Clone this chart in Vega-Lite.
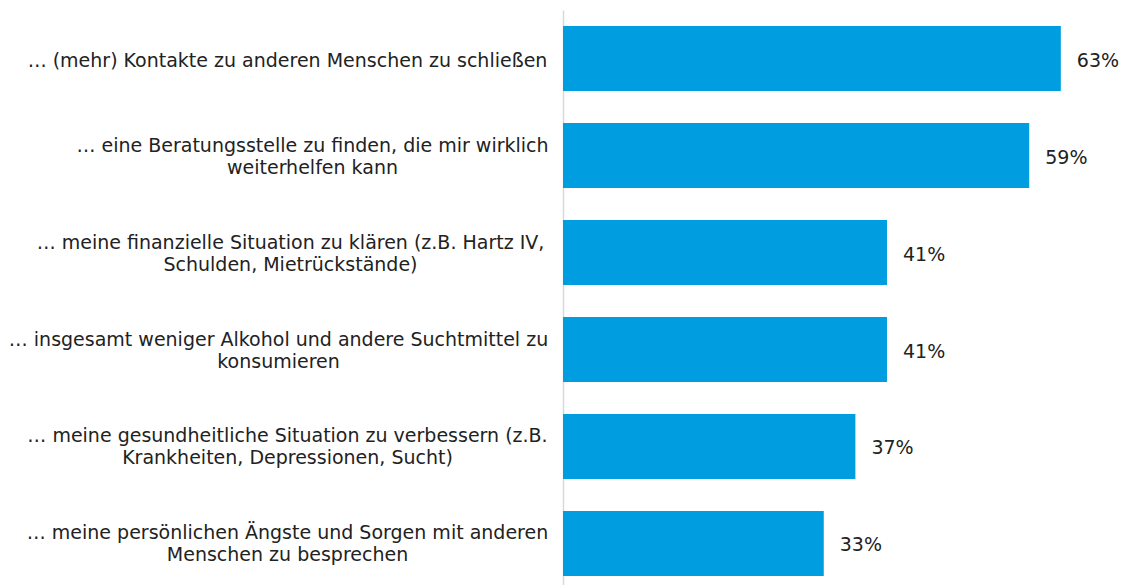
{
  "$schema": "https://vega.github.io/schema/vega-lite/v6.json",
  "width": 565,
  "height": 575,
  "autosize": "none",
  "padding": {"left": 563, "top": 10, "right": 0, "bottom": 0},
  "background": "white",
  "config": {"view": {"stroke": null}, "font": "DejaVu Sans"},
  "data": {
    "values": [
      {"item": "… (mehr) Kontakte zu anderen Menschen zu schließen", "share": 0.63},
      {"item": "… eine Beratungsstelle zu finden, die mir wirklich|weiterhelfen kann", "share": 0.59},
      {"item": "… meine finanzielle Situation zu klären (z.B. Hartz IV,|Schulden, Mietrückstände)", "share": 0.41},
      {"item": "… insgesamt weniger Alkohol und andere Suchtmittel zu|konsumieren", "share": 0.41},
      {"item": "… meine gesundheitliche Situation zu verbessern (z.B.|Krankheiten, Depressionen, Sucht)", "share": 0.37},
      {"item": "… meine persönlichen Ängste und Sorgen mit anderen|Menschen zu besprechen", "share": 0.33}
    ]
  },
  "encoding": {
    "y": {
      "field": "item",
      "type": "nominal",
      "sort": null,
      "scale": {"paddingInner": 0.33, "paddingOuter": 0.129, "align": 0.64},
      "axis": {
        "title": null,
        "ticks": false,
        "tickSize": 0,
        "labelPadding": {
          "condition": [
            {"test": "indexof(datum.value, 'Beratungsstelle') >= 0", "value": 251},
            {"test": "indexof(datum.value, 'Alkohol') >= 0", "value": 285},
            {"test": "indexof(datum.value, 'finanzielle') >= 0", "value": 273}
          ],
          "value": 276
        },
        "labelOffset": {
          "condition": {"test": "indexof(datum.value, '|') >= 0", "value": -10},
          "value": 2
        },
        "labelAlign": "center",
        "labelBaseline": "middle",
        "labelFont": "DejaVu Sans",
        "labelFontSize": 19,
        "labelColor": "#222222",
        "labelLineHeight": 22,
        "labelLimit": 700,
        "labelExpr": "split(datum.label, '|')",
        "domainColor": "#d9d9d9",
        "domainWidth": 1.5
      }
    },
    "x": {
      "field": "share",
      "type": "quantitative",
      "scale": {"domain": [0, 0.715]},
      "axis": null
    }
  },
  "layer": [
    {"mark": {"type": "bar", "color": "#009ee0"}},
    {
      "mark": {"type": "text", "align": "left", "baseline": "middle", "dx": 16, "dy": 2, "fontSize": 19, "font": "DejaVu Sans", "color": "#222222"},
      "encoding": {"text": {"field": "share", "type": "quantitative", "format": ".0%"}}
    }
  ]
}
